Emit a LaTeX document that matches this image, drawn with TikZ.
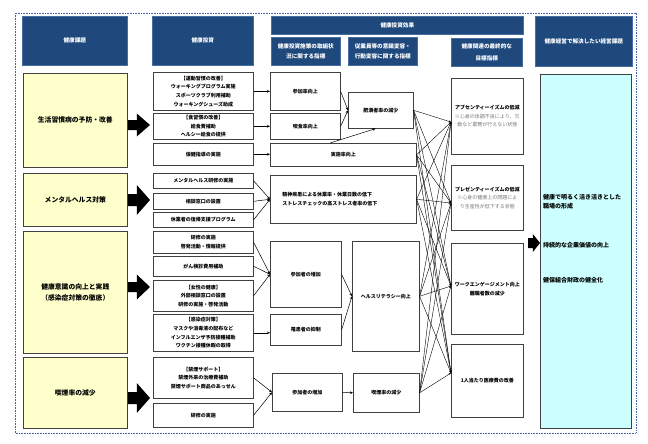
\documentclass[tikz,border=0pt]{standalone}
\usepackage{fontspec}
\setmainfont{Noto Sans CJK JP}
\usetikzlibrary{arrows.meta,calc}
\definecolor{hdr}{RGB}{31,73,125}
\definecolor{hdrline}{RGB}{70,110,160}
\definecolor{bord}{RGB}{64,64,64}
\definecolor{yel}{RGB}{255,255,204}
\definecolor{cya}{RGB}{204,255,255}
\definecolor{dotc}{RGB}{68,100,170}
\definecolor{note}{RGB}{120,120,120}
\newcommand\bx[7]{\node[#1, minimum width={(#5-#3)*1pt}, minimum height={(#6-#4)*1pt}] (#2) at (#3,#4) {#7};}
\newcommand\barrow[5]{% x tail, y centre, head half, shaft half, total length
  \fill[black] (#1,#2) ++(0,-#4) -- ++({#5-0.6*#5},0) -- ++(0,{-(#3-#4)}) -- ++({0.6*#5},#3) -- ++({-0.6*#5},#3) -- ++(0,{-(#3-#4)}) -- ++({-(#5-0.6*#5)},0) -- cycle;}
\newcommand\nt[1]{{\mdseries\color{note}#1}}
\begin{document}
\begin{tikzpicture}[x=1pt,y=-1pt,
  box/.style={draw=bord, line width=0.6pt, fill=white, inner sep=0pt, anchor=north west, align=center, font=\fontsize{5}{8.6}\selectfont\bfseries, text=black},
  hbox/.style={box, fill=hdr, draw=hdrline, text=white, font=\fontsize{5.6}{10.5}\selectfont\bfseries},
  ybox/.style={box, fill=yel, draw=bord, font=\fontsize{6.8}{10.5}\selectfont\bfseries},
  cbox/.style={box, fill=cya},
  conn/.style={line width=0.5pt, -{Stealth[length=3pt,width=2.6pt]}},
  fan/.style={line width=0.4pt, -{Stealth[length=2.4pt,width=2pt]}},
  ctext/.style={anchor=west, inner sep=0pt, font=\fontsize{6}{9.5}\selectfont\bfseries, align=left}]
\useasboundingbox (0,0) rectangle (648,444);
\draw[dotc, line width=0.8pt, dash pattern=on 0.8pt off 0.8pt] (15,13) rectangle (636,433);

% headers
\bx{hbox}{h1}{22}{16}{127}{65}{健康課題}
\bx{hbox}{h2}{152}{16}{253}{65}{健康投資}
\bx{hbox}{h3}{271}{16}{523}{34}{健康投資効果}
\bx{hbox}{h3a}{271}{37}{340}{65}{健康投資施策の取組状\\況に関する指標}
\bx{hbox}{h3b}{348}{37}{417}{65}{従業員等の意識変容・\\行動変容に関する指標}
\bx{hbox,font=\fontsize{5.6}{12}\selectfont\bfseries}{h3c}{451}{38}{522}{66}{健康関連の最終的な\\目標指標}
\bx{hbox}{h4}{535}{16}{632}{66}{健康経営で解決したい経営課題}

% health issues
\bx{ybox}{y1}{23}{73}{127}{167}{生活習慣病の予防・改善}
\bx{ybox}{y2}{23}{173}{127}{226}{メンタルヘルス対策}
\bx{ybox}{y3}{23}{231}{127}{353}{健康意識の向上と実践\\（感染症対策の徹底）}
\bx{ybox}{y4}{23}{357}{127}{428}{喫煙率の減少}

\barrow{128}{125}{11.5}{5}{22}
\barrow{128}{200}{15}{6}{22}
\barrow{128}{287}{12.5}{5}{22}
\barrow{128}{398}{15}{6}{22}

% investments
\bx{box}{i1}{153}{72}{253}{110}{【運動習慣の改善】\\ウォーキングプログラム実施\\スポーツクラブ利用補助\\ウォーキングシューズ助成}
\bx{box}{i2}{153}{113}{253}{139}{【食習慣の改善】\\給食費補助\\ヘルシー給食の提供}
\bx{box}{i3}{153}{143}{253}{165}{保健指導の実施}
\bx{box}{i4}{153}{173}{253}{188}{メンタルヘルス研修の実施}
\bx{box}{i5}{153}{193}{253}{209}{相談窓口の設置}
\bx{box}{i6}{153}{212}{253}{227}{休業者の復帰支援プログラム}
\bx{box}{i7}{153}{231}{253}{253}{研修の実施\\啓発活動・情報提供}
\bx{box}{i8}{153}{256}{253}{276}{がん検診費用補助}
\bx{box}{i9}{153}{280}{253}{311}{【女性の健康】\\外部相談窓口の設置\\研修の実施・啓発活動}
\bx{box}{i10}{153}{314}{253}{351}{【感染症対策】\\マスクや消毒液の配布など\\インフルエンザ予防接種補助\\ワクチン接種休暇の取得}
\bx{box}{i11}{153}{357}{253}{398}{【禁煙サポート】\\禁煙外来の治療費補助\\禁煙サポート商品のあっせん}
\bx{box}{i12}{153}{403}{253}{427}{研修の実施}

% indicators of measures
\bx{box}{a1}{270}{72}{340}{110}{参加率向上}
\bx{box}{a2}{270}{113}{340}{139}{喫食率向上}
\bx{box}{a3}{270}{143}{416}{166}{実施率向上}
\bx{box,align=left}{a4}{270}{175}{416}{223}{\hspace*{3pt}精神疾患による休業率・休業日数の低下\\\hspace*{3pt}ストレスチェックの高ストレス者率の低下\hspace*{30pt}}
\bx{box}{a5}{270}{241}{341}{307}{参加者の増加}
\bx{box}{a6}{270}{314}{341}{345}{罹患者の抑制}
\bx{box}{a7}{272}{373}{342}{411}{参加者の増加}

% behaviour indicators
\bx{box}{b1}{348}{92}{413}{128}{肥満者率の減少}
\bx{box}{b2}{352}{241}{419}{351}{ヘルスリテラシー向上}
\bx{box}{b3}{353}{373}{419}{412}{喫煙率の減少}

% final goals
\bx{box}{c1}{451}{78}{523}{154}{アブセンティーイズムの低減\\\nt{※心身の体調不良により、欠}\\\nt{勤など業務が行えない状態}}
\bx{box}{c2}{451}{165}{523}{230}{プレゼンティーイズムの低減\\\nt{※心身の健康上の問題によ}\\\nt{り生産性が低下する状態}}
\bx{box}{c3}{451}{243}{523}{334}{ワークエンゲージメント向上\\離職者数の減少}
\bx{box}{c4}{451}{344}{523}{417}{1人当たり医療費の改善}

% management issues
\bx{cbox}{m}{540}{74}{631}{428}{}
\node[ctext] (m1) at (543,202) {健康で明るく活き活きとした\\職場の形成};
\node[ctext] (m2) at (543,245) {持続的な企業価値の向上};
\node[ctext] (m3) at (543,280) {健保組合財政の健全化};
\barrow{528}{243}{9}{5}{12}

% connectors investments -> indicators
\draw[conn] (i1.east) -- (a1.west);
\draw[conn] (i2.east) -- (a2.west);
\draw[conn] (i3.east) -- (i3.east -| a3.west);
\foreach \s in {i4,i5,i6} \draw[conn] (\s.east) -- (a4.west);
\foreach \s in {i7,i8,i9} \draw[conn] (\s.east) -- (a5.west);
\draw[conn] (i10.east) -- (i10.east -| a6.west);
\foreach \s in {i11,i12} \draw[conn] (\s.east) -- (a7.west);

% indicators -> behaviour
\draw[conn] (a1.east) -- (b1.west);
\draw[conn] (a2.east) -- (b1.west);
\coordinate (a3top) at ($(a3.north west)!0.41!(a3.north east)$);
\coordinate (b1bot) at ($(b1.south west)!0.42!(b1.south east)$);
\draw[conn] (a3top) -- (b1bot);
\draw[conn] (a5.east) -- (b2.west);
\draw[conn] (a6.east) -- (b2.west);
\draw[conn] (a7.east) -- (b3.west);

% fan to final goals
\coordinate (t1) at (c1.west |- 0,122);
\coordinate (t2) at (c2.west |- 0,203);
\coordinate (t3) at (c3.west |- 0,286);
\coordinate (t4) at (c4.west |- 0,373);
\foreach \s in {b1,a3,a4,b2,b3}
  \foreach \t in {t1,t2,t3,t4}
    \draw[fan] (\s.east) -- (\t);
\end{tikzpicture}
\end{document}
